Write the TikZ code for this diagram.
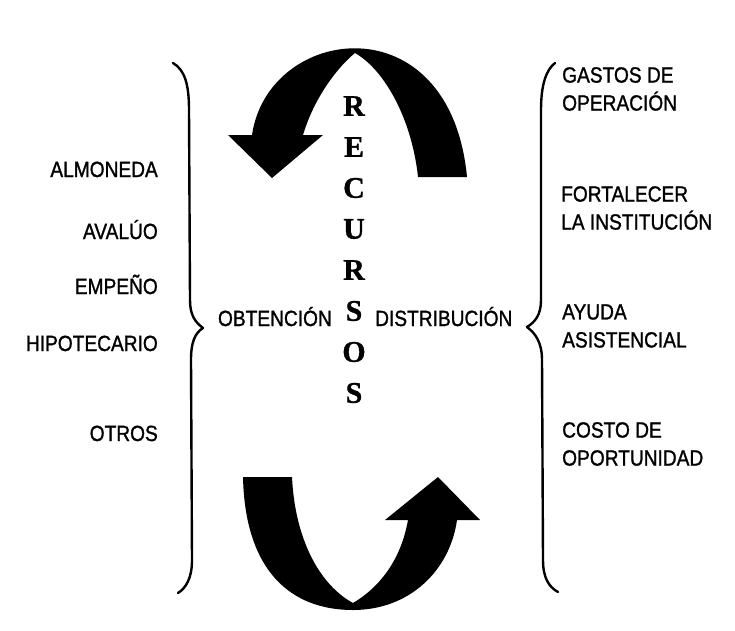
\documentclass[tikz,border=0pt]{standalone}
\usepackage{fontspec}
\setmainfont{Liberation Sans}[FakeStretch=0.87, FakeBold=1.2]
\newfontfamily\recfont{Liberation Serif}[FakeBold=1]

\tikzset{
  lbl/.style={inner sep=0pt, font=\fontsize{22}{28}\selectfont},
  leftlbl/.style={lbl, anchor=base east},
  rightlbl/.style={lbl, anchor=west, align=left},
  recletter/.style={inner sep=0pt, font=\recfont\bfseries\fontsize{30}{30}\selectfont},
  bracestroke/.style={line width=2.4pt, line cap=round, line join=round},
  bigarrow/.style={fill=black}
}

\begin{document}
\begin{tikzpicture}[x=1pt, y=-1pt]
      \useasboundingbox (0,0) rectangle (735,630);

      % Top arrow (turning left, pointing down)
      \fill[bigarrow] (228,135) -- (252,135)
        .. controls (268,25) and (450,0) .. (467,177) -- (418,177)
        .. controls (412,120) and (385,70) .. (355,53)
        .. controls (340,65) and (315,95) .. (303,135)
        -- (323,135) -- (272,178) -- cycle;

      % Bottom arrow (turning right, pointing up)
      \fill[bigarrow] (243,477)
        .. controls (245,570) and (290,610) .. (353,610)
        .. controls (410,610) and (450,570) .. (457,520)
        -- (480,520) -- (438,477) -- (385,520) -- (408,520)
        .. controls (400,565) and (375,590) .. (353,603)
        .. controls (320,585) and (295,540) .. (292,477) -- cycle;

      % Vertical word
      \foreach \l [count=\i from 0] in {R,E,C,U,R,S,O,S} {
        \node[recletter] (rec\i) at (354,{106+41*\i}) {\l};
      }

      % Left brace
      \draw[bracestroke] (173,63) .. controls (185,70) and (189,85) .. (189,110)
        -- (190,300) .. controls (190,315) and (195,322) .. (203,328)
        .. controls (195,333) and (191,342) .. (191,360)
        -- (192,560) .. controls (192,578) and (186,588) .. (178,593);

      % Right brace
      \draw[bracestroke] (555,63) .. controls (546,70) and (541,85) .. (541,110)
        -- (541,300) .. controls (541,315) and (535,322) .. (527,327)
        .. controls (535,333) and (542,342) .. (542,360)
        -- (543,560) .. controls (543,578) and (549,587) .. (558,592);

      % Sources
      \node[leftlbl] (almoneda) at (158,177) {ALMONEDA};
      \node[leftlbl] (avaluo) at (158,239) {AVALÚO};
      \node[leftlbl] (empeno) at (158,294) {EMPEÑO};
      \node[leftlbl] (hipotecario) at (158,351) {HIPOTECARIO};
      \node[leftlbl] (otros) at (158,441) {OTROS};

      % Centre labels
      \node[lbl, anchor=base east] (obtencion) at (332,326) {OBTENCIÓN};
      \node[lbl, anchor=base west] (distribucion) at (375,326) {DISTRIBUCIÓN};

      % Uses
      \node[rightlbl] (gastos) at (562,89) {GASTOS DE\\OPERACIÓN};
      \node[rightlbl] (fortalecer) at (561,208) {FORTALECER\\LA INSTITUCIÓN};
      \node[rightlbl] (ayuda) at (562,326) {AYUDA\\ASISTENCIAL};
      \node[rightlbl] (costo) at (562,444) {COSTO DE\\OPORTUNIDAD};
    \end{tikzpicture}
\end{document}
